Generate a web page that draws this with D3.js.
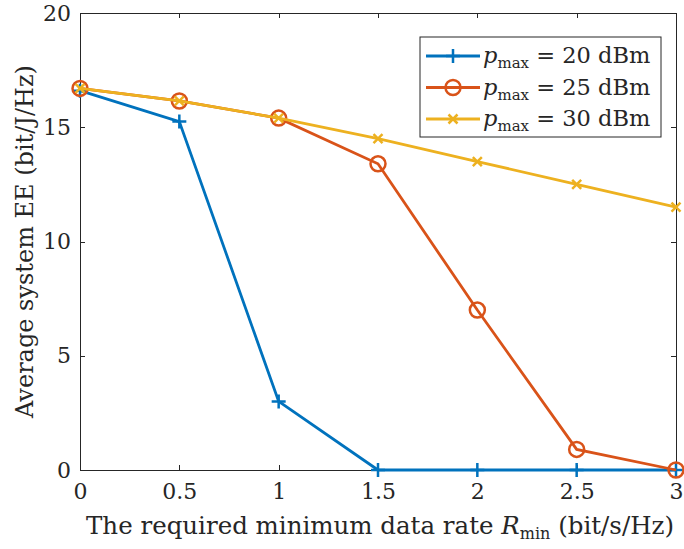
<!DOCTYPE html>
<html>
<head>
<style>
body { margin: 0; background: #fff; }
svg text { font-family: "DejaVu Serif", "Liberation Serif", serif; fill: #262626; }
.axis line, .axis path { stroke: #262626; shape-rendering: crispEdges; }
</style>
</head>
<body>
<div id="chart"></div>
<script src="https://d3js.org/d3.v7.min.js"></script>
<script>
var rates = [0, 0.5, 1, 1.5, 2, 2.5, 3];
var ee20 = [16.6, 15.25, 3.0, 0, 0, 0, 0];
var ee25 = [16.7, 16.15, 15.4, 13.4, 7.0, 0.9, 0];
var ee30 = [16.7, 16.15, 15.4, 14.5, 13.5, 12.5, 11.5];
var seriesNames = ["20", "25", "30"];
var xTicks = [0, 0.5, 1, 1.5, 2, 2.5, 3];
var yTicks = [0, 5, 10, 15, 20];

(function() {
    var W = 684, H = 549;
    var m = { top: 13, right: 8, bottom: 79, left: 80 };
    var iw = W - m.left - m.right, ih = H - m.top - m.bottom;
    var colors = ["#0072BD", "#D95319", "#EDB120"];
    var markers = ["plus", "circle", "cross"];
    var data = [ee20, ee25, ee30];
    var serif = "DejaVu Serif, Liberation Serif, serif";

    var svg = d3.select("#chart").append("svg")
        .attr("width", W).attr("height", H);
    var g = svg.append("g").attr("transform", "translate(" + m.left + "," + m.top + ")");

    var x = d3.scaleLinear().domain([0, 3]).range([0, iw]);
    var y = d3.scaleLinear().domain([0, 20]).range([ih, 0]);

    // axes with inward ticks, mirrored on top/right
    var fmt = function(d) { return String(d); };
    g.append("g").attr("class", "axis").attr("transform", "translate(0," + ih + ")")
        .call(d3.axisBottom(x).tickValues(xTicks).tickFormat(fmt).tickSize(-5).tickPadding(13));
    g.append("g").attr("class", "axis")
        .call(d3.axisTop(x).tickValues(xTicks).tickFormat("").tickSize(-5));
    g.append("g").attr("class", "axis")
        .call(d3.axisLeft(y).tickValues(yTicks).tickFormat(fmt).tickSize(-5).tickPadding(9));
    g.append("g").attr("class", "axis").attr("transform", "translate(" + iw + ",0)")
        .call(d3.axisRight(y).tickValues(yTicks).tickFormat("").tickSize(-5));
    g.selectAll(".axis").attr("font-family", serif).attr("font-size", 22);
    g.selectAll(".axis text").attr("fill", "#262626");

    var line = d3.line().x(function(d, i) { return x(rates[i]); }).y(function(d) { return y(d); });

    function drawMarker(sel, type, color, cx, cy) {
        if (type === "plus") {
            sel.append("path").attr("d", "M" + (cx - 7) + "," + cy + "H" + (cx + 7) + "M" + cx + "," + (cy - 7) + "V" + (cy + 7))
                .attr("stroke", color).attr("stroke-width", 2.5).attr("fill", "none");
        } else if (type === "circle") {
            sel.append("circle").attr("cx", cx).attr("cy", cy).attr("r", 7.5)
                .attr("stroke", color).attr("stroke-width", 2.5).attr("fill", "none");
        } else {
            sel.append("path").attr("d", "M" + (cx - 4.5) + "," + (cy - 4.5) + "L" + (cx + 4.5) + "," + (cy + 4.5) + "M" + (cx - 4.5) + "," + (cy + 4.5) + "L" + (cx + 4.5) + "," + (cy - 4.5))
                .attr("stroke", color).attr("stroke-width", 2.5).attr("fill", "none");
        }
    }

    data.forEach(function(vals, k) {
        var sg = g.append("g");
        sg.append("path").datum(vals).attr("d", line)
            .attr("fill", "none").attr("stroke", colors[k]).attr("stroke-width", 2.8);
        vals.forEach(function(v, i) { drawMarker(sg, markers[k], colors[k], x(rates[i]), y(v)); });
    });

    // legend
    var lg = svg.append("g").attr("transform", "translate(420,37)");
    lg.append("rect").attr("width", 241).attr("height", 100)
        .attr("fill", "#fff").attr("stroke", "#262626").attr("stroke-width", 1);
    seriesNames.forEach(function(name, k) {
        var ly = 19 + k * 31.5;
        lg.append("line").attr("x1", 6).attr("x2", 60).attr("y1", ly).attr("y2", ly)
            .attr("stroke", colors[k]).attr("stroke-width", 2.8);
        drawMarker(lg, markers[k], colors[k], 33, ly);
        var t = lg.append("text").attr("x", 63).attr("y", ly + 7).style("font-size", "22.5px");
        t.append("tspan").attr("font-style", "italic").text("p");
        t.append("tspan").attr("dy", 5).style("font-size", "15px").text("max");
        t.append("tspan").attr("dy", -5).text(" = " + name + " dBm");
    });

    // axis labels
    var xl = svg.append("text").attr("x", m.left + iw / 2 + 2).attr("y", 534)
        .attr("text-anchor", "middle").style("font-size", "24.5px");
    xl.append("tspan").text("The required minimum data rate ");
    xl.append("tspan").attr("font-style", "italic").text("R");
    xl.append("tspan").attr("dy", 5).style("font-size", "16px").text("min");
    xl.append("tspan").attr("dy", -5).text(" (bit/s/Hz)");

    svg.append("text").attr("transform", "translate(33," + (m.top + ih / 2) + ") rotate(-90)")
        .attr("text-anchor", "middle").style("font-size", "24px")
        .text("Average system EE (bit/J/Hz)");
})();
</script>
</body>
</html>
